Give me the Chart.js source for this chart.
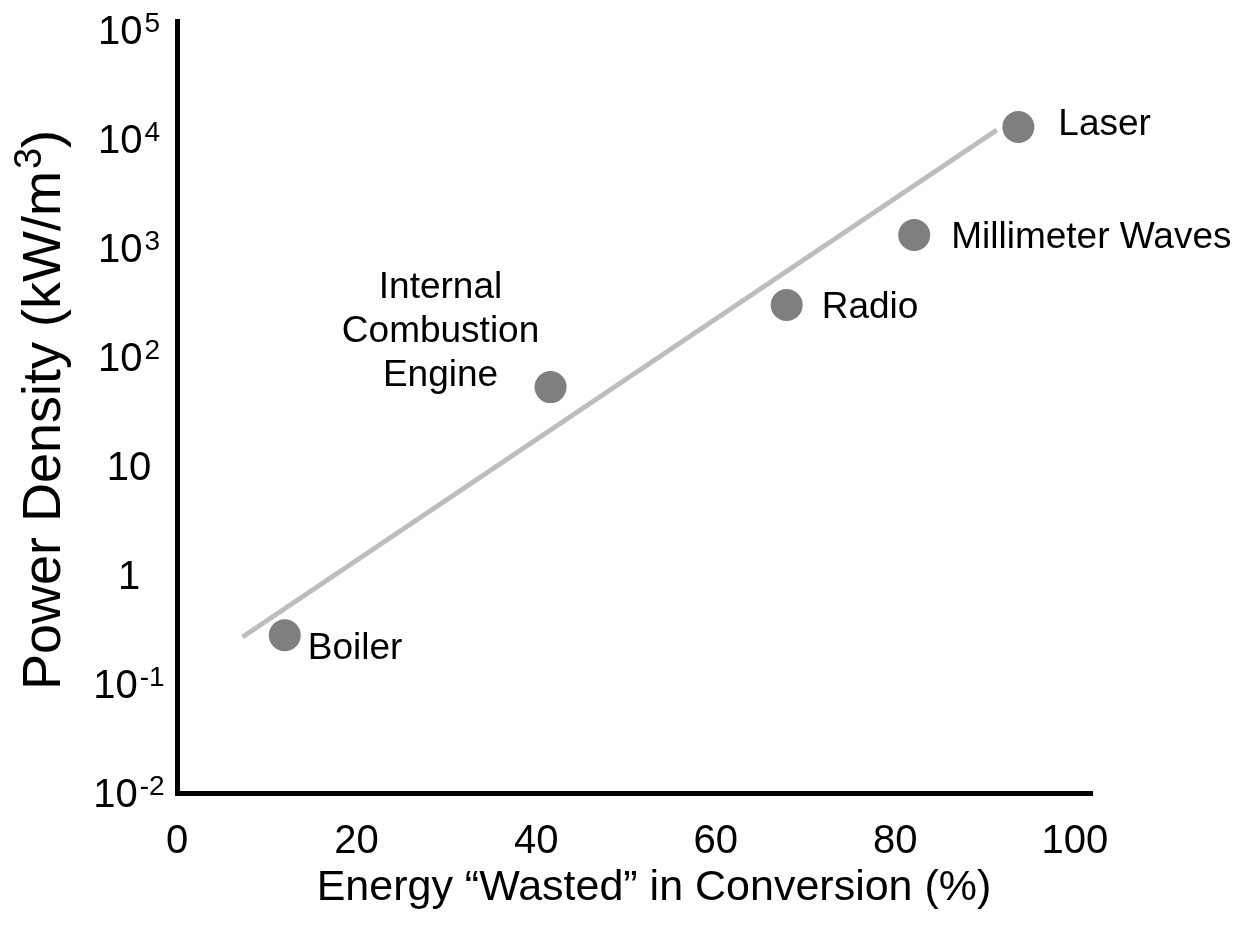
<!DOCTYPE html>
<html>
<head>
<meta charset="utf-8">
<script src="https://cdn.jsdelivr.net/npm/chart.js@4.4.0/dist/chart.umd.min.js"></script>
<style>
  html, body { margin: 0; padding: 0; background: #fff; }
</style>
</head>
<body>
<canvas id="powerChart" width="1239" height="934"></canvas>
<script>
// data
const pointNames = [['Boiler'], ['Internal', 'Combustion', 'Engine'], ['Radio'], ['Millimeter Waves'], ['Laser']];
const wastedPct = [12.0, 41.6, 67.9, 82.1, 93.7];
const powerDensity = [0.28, 53, 300, 1315, 12900];
const trendPct = [7.3, 91.3];
const trendDensity = [0.27, 12100];
const xTicks = [0, 20, 40, 60, 80, 100];
const yTicks = [0.01, 0.1, 1, 10, 100, 1000, 10000, 100000];
const yTickLabels = ['10{-2}', '10{-1}', '1', '10', '10{2}', '10{3}', '10{4}', '10{5}'];
const xTitle = 'Energy “Wasted” in Conversion (%)';
const yTitle = 'Power Density (kW/m{3})';

const FONT = '"Liberation Sans", Arial, sans-serif';
// label placement relative to each dot: [dx, dy of first baseline, align]
const labelPlacement = [[23, 24, 'left'], [-110, -89, 'center'], [35, 13, 'left'], [37, 13, 'left'], [40, 8, 'left']];

// text with {superscript} parts, y is the baseline
function drawRich(ctx, text, x, y, size, supSize, rise, align) {
  const parts = text.split(/[{}]/);
  let total = 0;
  const widths = parts.map((p, i) => {
    ctx.font = (i % 2 ? supSize : size) + 'px ' + FONT;
    const w = ctx.measureText(p).width + (i % 2 && p ? 2 : 0);
    total += w;
    return w;
  });
  let cx = align === 'center' ? x - total / 2 : (align === 'right' ? x - total : x);
  ctx.textAlign = 'left';
  ctx.textBaseline = 'alphabetic';
  parts.forEach((p, i) => {
    ctx.font = (i % 2 ? supSize : size) + 'px ' + FONT;
    ctx.fillText(p, cx + (i % 2 ? 2 : 0), i % 2 ? y - rise : y);
    cx += widths[i];
  });
}

const decorations = {
  id: 'decorations',
  afterDatasetsDraw(chart) {
    const ctx = chart.ctx;
    const meta = chart.getDatasetMeta(0);
    ctx.save();
    ctx.fillStyle = '#000';
    ctx.textBaseline = 'alphabetic';
    ctx.font = '37px ' + FONT;
    meta.data.forEach((pt, i) => {
      const [dx, dy, align] = labelPlacement[i];
      ctx.textAlign = align;
      pointNames[i].forEach((line, j) => {
        ctx.fillText(line, pt.x + dx, pt.y + dy + j * 44);
      });
    });
    ctx.restore();
  },
  afterDraw(chart) {
    const ctx = chart.ctx;
    const area = chart.chartArea;
    const yScale = chart.scales.y;
    ctx.save();
    ctx.fillStyle = '#000';
    yTicks.forEach((v, i) => {
      const py = yScale.getPixelForValue(v);
      drawRich(ctx, yTickLabels[i], area.left - 48, py + 14, 40, 28, 12, 'center');
    });
    drawRich(ctx, xTitle, 654, 900, 43, 30, 14, 'center');
    ctx.translate(60, 410);
    ctx.rotate(-Math.PI / 2);
    drawRich(ctx, yTitle, 0, 0, 54, 38, 19, 'center');
    ctx.restore();
  }
};

new Chart(document.getElementById('powerChart'), {
  type: 'scatter',
  data: {
    datasets: [
      {
        data: wastedPct.map((x, i) => ({ x: x, y: powerDensity[i] })),
        backgroundColor: '#7f7f7f',
        borderWidth: 0,
        pointRadius: 16,
        pointHoverRadius: 16,
        order: 0
      },
      {
        data: trendPct.map((x, i) => ({ x: x, y: trendDensity[i] })),
        showLine: true,
        borderColor: '#bdbdbd',
        borderWidth: 5,
        pointRadius: 0,
        order: 1
      }
    ]
  },
  options: {
    responsive: false,
    devicePixelRatio: 1,
    animation: false,
    layout: { padding: { top: 21, right: 147, bottom: 0, left: 0 } },
    plugins: {
      legend: { display: false },
      tooltip: { enabled: false }
    },
    scales: {
      x: {
        type: 'linear',
        min: 0,
        max: 101.9,
        afterBuildTicks: s => { s.ticks = xTicks.map(v => ({ value: v })); },
        afterFit: s => { s.height = 141; },
        ticks: {
          color: '#000',
          font: { family: FONT, size: 40 },
          padding: 25,
          maxRotation: 0,
          autoSkip: false
        },
        grid: { display: false, drawTicks: false },
        border: { display: true, color: '#000', width: 5 }
      },
      y: {
        type: 'logarithmic',
        min: 0.01,
        max: 121000,
        afterFit: s => { s.width = 177; },
        ticks: { display: false },
        grid: { display: false, drawTicks: false },
        border: { display: true, color: '#000', width: 5 }
      }
    }
  },
  plugins: [decorations]
});
</script>
</body>
</html>
